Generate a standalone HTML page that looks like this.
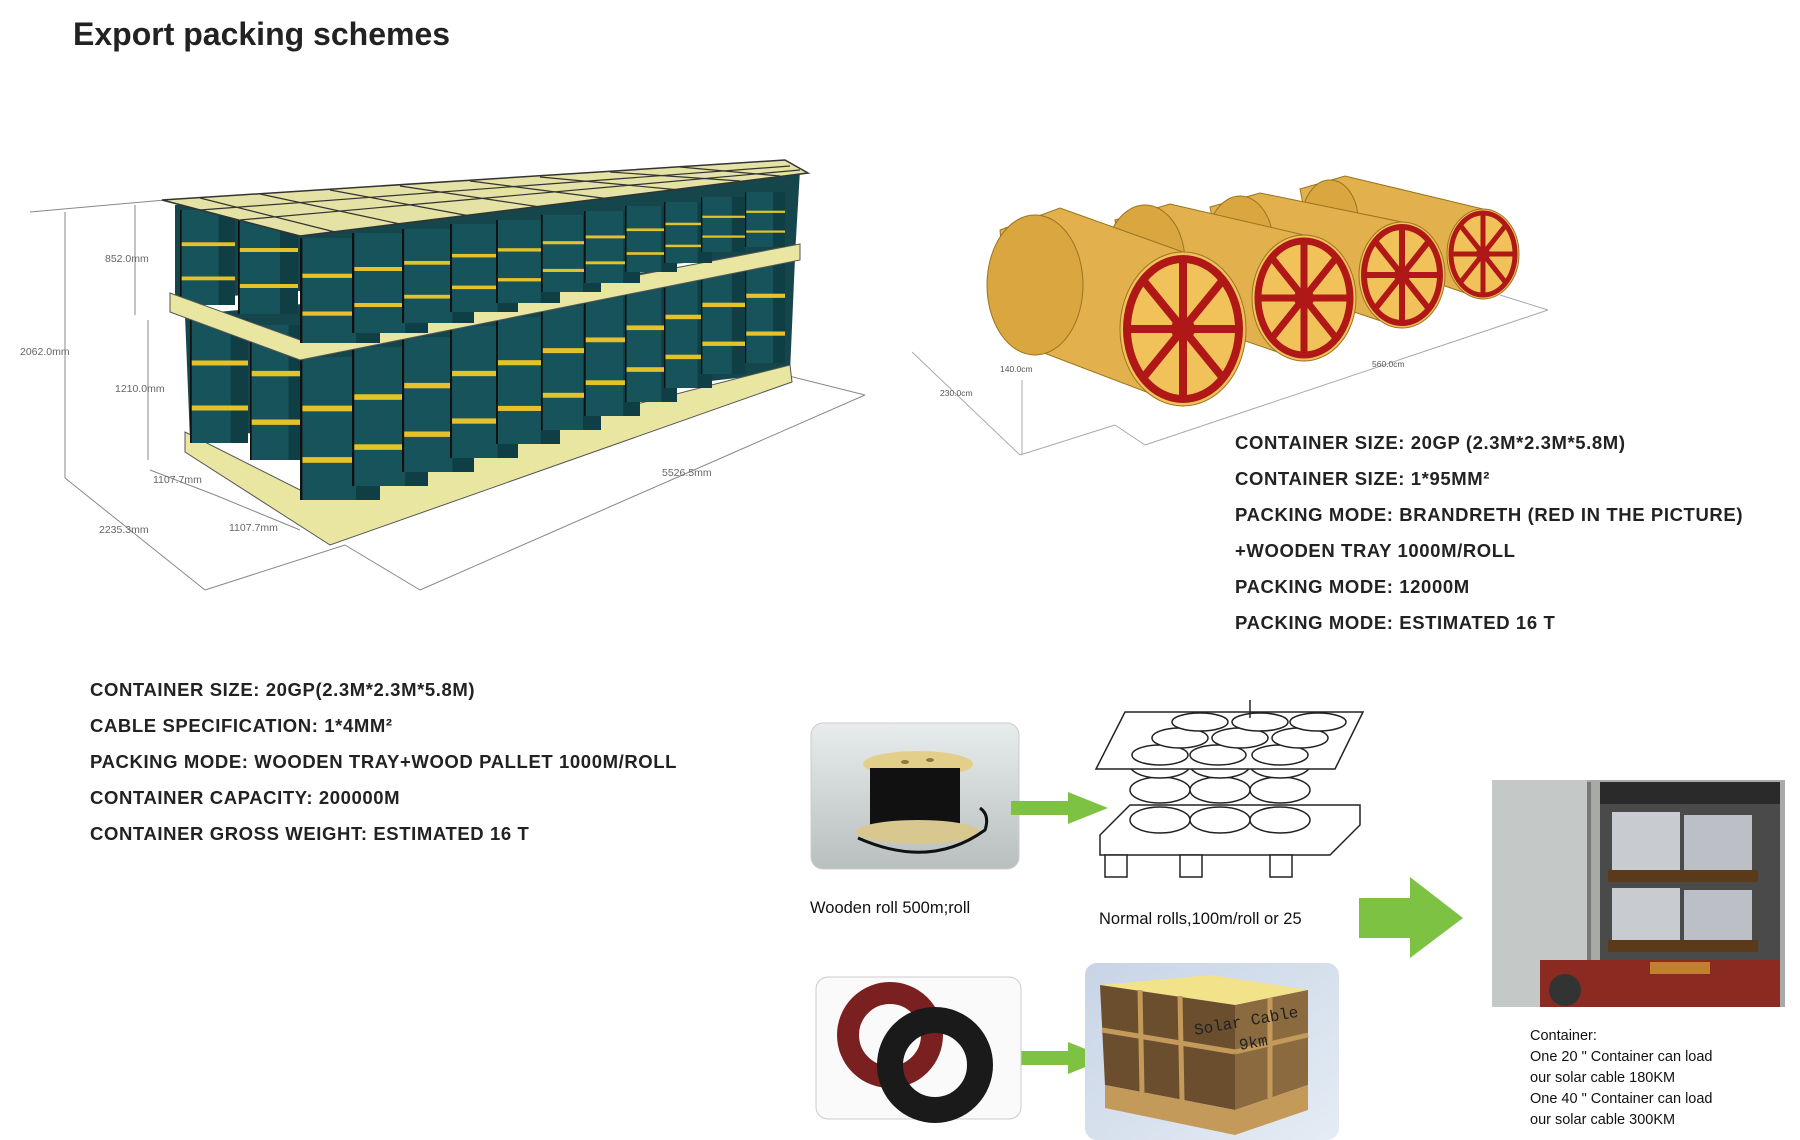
<!DOCTYPE html>
<html><head><meta charset="utf-8"><style>
html,body{margin:0;padding:0;background:#fff}
body{width:1800px;height:1140px;position:relative;overflow:hidden;font-family:"Liberation Sans",Arial,sans-serif}
.t{position:absolute;font-weight:bold;font-size:18.5px;color:#222;letter-spacing:0.6px;white-space:nowrap}
.s{position:absolute;font-size:16.5px;color:#111;white-space:nowrap}
.c{position:absolute;font-size:14.5px;color:#111;line-height:21px;white-space:nowrap}
svg{position:absolute;left:0;top:0}
</style></head><body>
<svg width="1800" height="1140" viewBox="0 0 1800 1140">
<defs>
<symbol id="cy" viewBox="0 0 100 100" preserveAspectRatio="none">
<rect x="0" y="0" width="100" height="100" fill="#17535a"/>
<rect x="70" y="0" width="30" height="100" fill="#0f3f45"/>
<rect x="0" y="34" width="100" height="4" fill="#e6c22a"/>
<rect x="0" y="70" width="100" height="4" fill="#e6c22a"/>
<rect x="0" y="0" width="3" height="100" fill="#111"/>
</symbol>
<linearGradient id="g1" x1="0" y1="0" x2="0" y2="1"><stop offset="0" stop-color="#e8ecec"/><stop offset="1" stop-color="#b8bfbf"/></linearGradient>
<linearGradient id="g2" x1="0" y1="0" x2="1" y2="1"><stop offset="0" stop-color="#c8d4e6"/><stop offset="1" stop-color="#e4ecf4"/></linearGradient>
</defs>

<g stroke="#888" stroke-width="1" fill="none">
<line x1="30" y1="212" x2="165" y2="200"/>
<line x1="65" y1="212" x2="65" y2="478"/>
<line x1="135" y1="205" x2="135" y2="315"/>
<line x1="148" y1="320" x2="148" y2="460"/>
<line x1="65" y1="478" x2="205" y2="590"/>
<line x1="205" y1="590" x2="345" y2="545"/>
<line x1="345" y1="545" x2="420" y2="590"/>
<line x1="420" y1="590" x2="865" y2="395"/>
<line x1="785" y1="375" x2="865" y2="395"/>
<line x1="215" y1="495" x2="300" y2="530"/>
<line x1="150" y1="470" x2="215" y2="495"/>
</g>
<g font-size="10.5" fill="#666" font-family="Liberation Sans,sans-serif">
<text x="105" y="262">852.0mm</text>
<text x="20" y="355">2062.0mm</text>
<text x="115" y="392">1210.0mm</text>
<text x="153" y="483">1107.7mm</text>
<text x="229" y="531">1107.7mm</text>
<text x="99" y="533">2235.3mm</text>
<text x="662" y="476">5526.5mm</text>
</g>

<polygon points="175,205 800,170 795,255 175,300" fill="#14464c"/>
<polygon points="185,315 795,258 790,372 190,440" fill="#14464c"/>
<use href="#cy" x="180" y="210" width="55" height="95"/>
<use href="#cy" x="238" y="214" width="60" height="100"/>
<polygon points="185,432 300,490 790,365 792,382 330,545 185,452" fill="#e8e6a0" stroke="#555" stroke-width="1"/>
<use href="#cy" x="190" y="318" width="58" height="125"/>
<use href="#cy" x="250" y="325" width="55" height="135"/>
<use href="#cy" x="300" y="357" width="80" height="143"/>
<use href="#cy" x="352" y="347" width="76" height="139"/>
<use href="#cy" x="402" y="337" width="72" height="135"/>
<use href="#cy" x="450" y="326" width="68" height="132"/>
<use href="#cy" x="496" y="317" width="64" height="127"/>
<use href="#cy" x="541" y="306" width="60" height="124"/>
<use href="#cy" x="584" y="297" width="56" height="119"/>
<use href="#cy" x="625" y="286" width="52" height="116"/>
<use href="#cy" x="664" y="277" width="48" height="111"/>
<use href="#cy" x="701" y="266" width="44" height="108"/>
<use href="#cy" x="745" y="258" width="40" height="105"/>
<polygon points="170,293 300,340 800,244 800,260 300,360 170,312" fill="#e8e6a0" stroke="#555" stroke-width="1"/>
<use href="#cy" x="300" y="238" width="80" height="105"/>
<use href="#cy" x="352" y="233" width="76" height="100"/>
<use href="#cy" x="402" y="229" width="72" height="94"/>
<use href="#cy" x="450" y="224" width="68" height="88"/>
<use href="#cy" x="496" y="220" width="64" height="83"/>
<use href="#cy" x="541" y="215" width="60" height="77"/>
<use href="#cy" x="584" y="211" width="56" height="72"/>
<use href="#cy" x="625" y="206" width="52" height="66"/>
<use href="#cy" x="664" y="202" width="48" height="61"/>
<use href="#cy" x="701" y="197" width="44" height="55"/>
<use href="#cy" x="745" y="192" width="40" height="55"/>
<polygon points="162,200 300,236 808,173 785,160" fill="#e4e2a4" stroke="#333" stroke-width="1.5"/>
<g stroke="#333" stroke-width="1.2">
<line x1="200" y1="198" x2="335" y2="232"/><line x1="260" y1="194" x2="400" y2="224"/>
<line x1="330" y1="190" x2="470" y2="216"/><line x1="400" y1="186" x2="540" y2="207"/>
<line x1="470" y1="181" x2="610" y2="199"/><line x1="540" y1="177" x2="680" y2="190"/>
<line x1="610" y1="172" x2="740" y2="181"/><line x1="680" y1="167" x2="780" y2="176"/>
<line x1="200" y1="210" x2="790" y2="166"/><line x1="240" y1="220" x2="800" y2="170"/>
</g>

<g stroke="#aaa" stroke-width="1" fill="none">
<line x1="912" y1="352" x2="1020" y2="455"/><line x1="1020" y1="455" x2="1115" y2="425"/>
<line x1="1115" y1="425" x2="1145" y2="445"/><line x1="1145" y1="445" x2="1548" y2="310"/>
<line x1="1500" y1="295" x2="1548" y2="310"/><line x1="1022" y1="380" x2="1022" y2="455"/>
</g>
<g font-size="8.5" fill="#555"><text x="1000" y="372">140.0cm</text><text x="940" y="396">230.0cm</text><text x="1372" y="367">560.0cm</text></g>
<g stroke="#9a7420" stroke-width="1">
<polygon points="1300,189 1345,176 1483,209 1483,299 1310,240" fill="#e2b04c"/>
<ellipse cx="1330" cy="220" rx="28" ry="40" fill="#d9a640"/>
<ellipse cx="1483" cy="254" rx="36" ry="45" fill="#f2c25a"/>
</g>
<g stroke="#b01818" stroke-width="5" fill="none"><ellipse cx="1483" cy="254" rx="32" ry="41"/><line x1="1483" y1="213" x2="1483" y2="295"/><line x1="1451" y1="254" x2="1515" y2="254"/><line x1="1460" y1="225" x2="1506" y2="283"/><line x1="1506" y1="225" x2="1460" y2="283"/></g>
<circle cx="1483" cy="254" r="7" fill="#b01818"/>
<g stroke="#9a7420" stroke-width="1">
<polygon points="1210,207 1260,193 1402,222 1402,328 1222,268" fill="#e2b04c"/>
<ellipse cx="1240" cy="243" rx="33" ry="47" fill="#d9a640"/>
<ellipse cx="1402" cy="275" rx="43" ry="53" fill="#f2c25a"/>
</g>
<g stroke="#b01818" stroke-width="6" fill="none"><ellipse cx="1402" cy="275" rx="38" ry="48"/><line x1="1402" y1="227" x2="1402" y2="323"/><line x1="1364" y1="275" x2="1440" y2="275"/><line x1="1375" y1="241" x2="1429" y2="309"/><line x1="1429" y1="241" x2="1375" y2="309"/></g>
<circle cx="1402" cy="275" r="8" fill="#b01818"/>
<g stroke="#9a7420" stroke-width="1">
<polygon points="1115,220 1170,204 1304,235 1304,361 1125,300" fill="#e2b04c"/>
<ellipse cx="1145" cy="262" rx="40" ry="57" fill="#d9a640"/>
<ellipse cx="1304" cy="298" rx="52" ry="63" fill="#f2c25a"/>
</g>
<g stroke="#b01818" stroke-width="7" fill="none"><ellipse cx="1304" cy="298" rx="46" ry="57"/><line x1="1304" y1="241" x2="1304" y2="355"/><line x1="1258" y1="298" x2="1350" y2="298"/><line x1="1272" y1="258" x2="1336" y2="338"/><line x1="1336" y1="258" x2="1272" y2="338"/></g>
<circle cx="1304" cy="298" r="10" fill="#b01818"/>
<g stroke="#9a7420" stroke-width="1">
<polygon points="1000,230 1060,208 1183,252 1183,406 1010,340" fill="#e2b04c"/>
<ellipse cx="1035" cy="285" rx="48" ry="70" fill="#d9a640"/>
<ellipse cx="1183" cy="329" rx="63" ry="77" fill="#f2c25a"/>
</g>
<g stroke="#b01818" stroke-width="8" fill="none"><ellipse cx="1183" cy="329" rx="56" ry="70"/><line x1="1183" y1="259" x2="1183" y2="399"/><line x1="1127" y1="329" x2="1239" y2="329"/><line x1="1143" y1="280" x2="1223" y2="378"/><line x1="1223" y1="280" x2="1143" y2="378"/></g>
<circle cx="1183" cy="329" r="12" fill="#b01818"/>

<!-- wooden roll photo -->
<rect x="811" y="723" width="208" height="146" rx="12" fill="url(#g1)" stroke="#ccc"/>
<ellipse cx="918" cy="764" rx="55" ry="13" fill="#e3cf8a"/>
<ellipse cx="905" cy="762" rx="4" ry="2" fill="#8a7a40"/><ellipse cx="930" cy="760" rx="4" ry="2" fill="#8a7a40"/>
<rect x="870" y="768" width="90" height="62" fill="#111"/>
<ellipse cx="918" cy="832" rx="62" ry="12" fill="#d8c78e"/>
<path d="M858 838 Q930 870 985 830 Q990 815 980 808" stroke="#111" stroke-width="3" fill="none"/>
<polygon points="1011,801 1068,801 1068,792 1108,808 1068,824 1068,815 1011,815" fill="#7dc242"/>
<polygon points="1013,1051 1068,1051 1068,1042 1108,1058 1068,1074 1068,1065 1013,1065" fill="#7dc242"/>
<polygon points="1359,898 1410,898 1410,877 1463,918 1410,958 1410,938 1359,938" fill="#7dc242"/>
<!-- pallet drawing -->
<g stroke="#222" stroke-width="1.5" fill="#fff">
<polygon points="1100,855 1330,855 1360,825 1360,805 1130,805 1100,835"/>
<rect x="1105" y="855" width="22" height="22"/><rect x="1180" y="855" width="22" height="22"/><rect x="1270" y="855" width="22" height="22"/>
<ellipse cx="1160" cy="820" rx="30" ry="13"/><ellipse cx="1220" cy="820" rx="30" ry="13"/><ellipse cx="1280" cy="820" rx="30" ry="13"/>
<ellipse cx="1160" cy="790" rx="30" ry="13"/><ellipse cx="1220" cy="790" rx="30" ry="13"/><ellipse cx="1280" cy="790" rx="30" ry="13"/>
<ellipse cx="1160" cy="765" rx="30" ry="13"/><ellipse cx="1220" cy="765" rx="30" ry="13"/><ellipse cx="1280" cy="765" rx="30" ry="13"/>
<polygon points="1096,769 1335,769 1363,712 1125,712"/>
<ellipse cx="1160" cy="755" rx="28" ry="10"/><ellipse cx="1218" cy="755" rx="28" ry="10"/><ellipse cx="1280" cy="755" rx="28" ry="10"/>
<ellipse cx="1180" cy="738" rx="28" ry="10"/><ellipse cx="1240" cy="738" rx="28" ry="10"/><ellipse cx="1300" cy="738" rx="28" ry="10"/>
<ellipse cx="1200" cy="722" rx="28" ry="9"/><ellipse cx="1260" cy="722" rx="28" ry="9"/><ellipse cx="1318" cy="722" rx="28" ry="9"/>
<line x1="1250" y1="700" x2="1250" y2="718"/>
</g>
<!-- container photo -->
<rect x="1492" y="780" width="293" height="227" fill="#a8aaa8"/>
<rect x="1492" y="780" width="95" height="227" fill="#c4c8c6"/>
<rect x="1587" y="782" width="4" height="200" fill="#777"/>
<rect x="1600" y="782" width="180" height="185" fill="#4a4a4a"/>
<rect x="1600" y="782" width="180" height="22" fill="#2a2a2a"/>
<rect x="1612" y="812" width="68" height="58" fill="#c8ccd0"/>
<rect x="1684" y="815" width="68" height="55" fill="#bcc0c6"/>
<rect x="1612" y="888" width="68" height="52" fill="#c8ccd0"/>
<rect x="1684" y="890" width="68" height="50" fill="#bcc0c6"/>
<rect x="1608" y="870" width="150" height="12" fill="#5a3a18"/>
<rect x="1608" y="940" width="150" height="12" fill="#5a3a18"/>
<rect x="1540" y="960" width="240" height="47" fill="#8a2a20"/>
<rect x="1650" y="962" width="60" height="12" fill="#c08030"/>
<circle cx="1565" cy="990" r="16" fill="#333"/>
<!-- coil photo -->
<rect x="816" y="977" width="205" height="142" rx="12" fill="#fafafa" stroke="#ccc"/>
<circle cx="890" cy="1035" r="42" fill="none" stroke="#7a2020" stroke-width="22"/>
<circle cx="935" cy="1065" r="45" fill="none" stroke="#1a1a1a" stroke-width="26"/>
<!-- box photo -->
<rect x="1085" y="963" width="254" height="177" rx="12" fill="url(#g2)"/>
<polygon points="1100,985 1210,975 1308,990 1235,1005" fill="#f2e28a"/>
<polygon points="1100,985 1235,1005 1235,1110 1105,1085" fill="#6a4e2e"/>
<polygon points="1235,1005 1308,990 1308,1085 1235,1110" fill="#8a6a3e"/>
<g stroke="#c49a5a" stroke-width="5"><line x1="1140" y1="990" x2="1142" y2="1092"/><line x1="1180" y1="996" x2="1182" y2="1100"/><line x1="1102" y1="1030" x2="1235" y2="1052"/><line x1="1235" y1="1052" x2="1308" y2="1035"/><line x1="1270" y1="998" x2="1270" y2="1098"/></g>
<polygon points="1105,1085 1235,1110 1308,1085 1308,1110 1235,1135 1105,1108" fill="#c49a5a"/>
<text x="1195" y="1035" font-family="Liberation Mono,monospace" font-size="16" fill="#222" transform="rotate(-10 1195 1035)">Solar Cable</text>
<text x="1240" y="1050" font-family="Liberation Mono,monospace" font-size="16" fill="#222" transform="rotate(-10 1240 1050)">9km</text>
</svg>

<div style="position:absolute;left:73px;top:16px;font-size:32px;font-weight:bold;color:#222">Export packing schemes</div>

<div class="t" style="left:1235px;top:432px">CONTAINER SIZE: 20GP (2.3M*2.3M*5.8M)</div>
<div class="t" style="left:1235px;top:468px">CONTAINER SIZE: 1*95MM²</div>
<div class="t" style="left:1235px;top:504px">PACKING MODE: BRANDRETH (RED IN THE PICTURE)</div>
<div class="t" style="left:1235px;top:540px">+WOODEN TRAY 1000M/ROLL</div>
<div class="t" style="left:1235px;top:576px">PACKING MODE: 12000M</div>
<div class="t" style="left:1235px;top:612px">PACKING MODE: ESTIMATED 16 T</div>

<div class="t" style="left:90px;top:679px">CONTAINER SIZE: 20GP(2.3M*2.3M*5.8M)</div>
<div class="t" style="left:90px;top:715px">CABLE SPECIFICATION: 1*4MM²</div>
<div class="t" style="left:90px;top:751px">PACKING MODE: WOODEN TRAY+WOOD PALLET 1000M/ROLL</div>
<div class="t" style="left:90px;top:787px">CONTAINER CAPACITY: 200000M</div>
<div class="t" style="left:90px;top:823px">CONTAINER GROSS WEIGHT: ESTIMATED 16 T</div>

<div class="s" style="left:810px;top:899px">Wooden roll 500m;roll</div>
<div class="s" style="left:1099px;top:910px">Normal rolls,100m/roll or 25</div>
<div class="c" style="left:1530px;top:1026px">Container:<br>One 20 " Container can load<br>our solar cable 180KM<br>One 40 " Container can load<br>our solar cable 300KM</div>
</body></html>
